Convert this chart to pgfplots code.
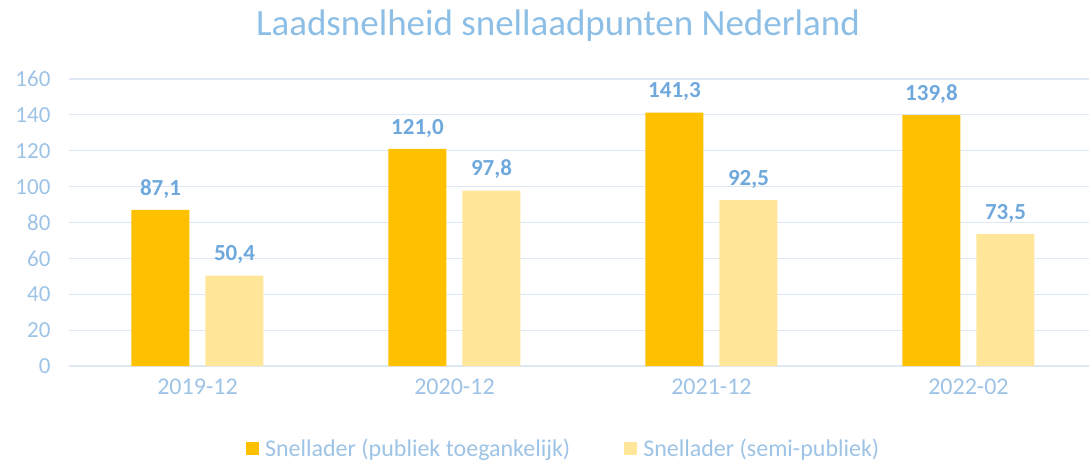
\documentclass[border=0pt]{standalone}
\usepackage{pgfplots}
\pgfplotsset{compat=1.18}
\usepackage{fontspec}
\setmainfont{Carlito}
\definecolor{ticktxt}{HTML}{9DC3E6}
\definecolor{lbltxt}{HTML}{6FA8DC}
\definecolor{titletxt}{HTML}{8DBFE6}
\definecolor{gridc}{HTML}{DDE8F4}
\definecolor{barA}{HTML}{FFC000}
\definecolor{barB}{HTML}{FFE699}
\begin{document}
\begin{tikzpicture}[x=1pt,y=1pt]
\path[use as bounding box] (0,0) rectangle (1089,466);
\node[text=titletxt, font=\fontsize{37}{44}\selectfont] at (558,440) {Laadsnelheid snellaadpunten Nederland};
\begin{axis}[
  at={(69pt,100pt)}, anchor=south west,
  scale only axis, width=1020pt, height=287pt,
  xmin=-0.5, xmax=3.469, ymin=0, ymax=160,
  ytick={0,20,...,160},
  xtick={0,1,2,3},
  xticklabels={2019-12,2020-12,2021-12,2022-02},
  ymajorgrids, grid style={draw=gridc, line width=1.1pt},
  axis line style={draw=none},
  major tick length=0pt,
  tick label style={text=ticktxt},
  /pgf/number format/assume math mode=true,
  yticklabel style={xshift=-15pt, font=\fontsize{23}{27}\selectfont},
  xticklabel style={yshift=-9pt, font=\fontsize{24}{28}\selectfont},
  ybar=16pt, bar width=58pt,
  nodes near coords,
  every node near coord/.append style={text=lbltxt, font=\fontsize{23}{27}\selectfont\bfseries, yshift=8pt,
    /pgf/number format/.cd, fixed, fixed zerofill, precision=1, use comma, assume math mode=true},
  legend columns=2,
  legend style={at={(0.485,-0.286)}, anchor=center, draw=none, fill=none,
    font=\fontsize{24}{28}\selectfont, text=ticktxt,
    /tikz/every odd column/.append style={column sep=4pt},
    /tikz/every even column/.append style={column sep=52pt}},
  legend image code/.code={\fill[#1] (0pt,-6.5pt) rectangle (13pt,6.5pt);},
  clip=false
]
\addplot[fill=barA, draw=none] coordinates {(0,87.1) (1,121.0) (2,141.3) (3,139.8)};
\addplot[fill=barB, draw=none] coordinates {(0,50.4) (1,97.8) (2,92.5) (3,73.5)};
\legend{Snellader (publiek toegankelijk), Snellader (semi-publiek)}
\end{axis}
\end{tikzpicture}
\end{document}
